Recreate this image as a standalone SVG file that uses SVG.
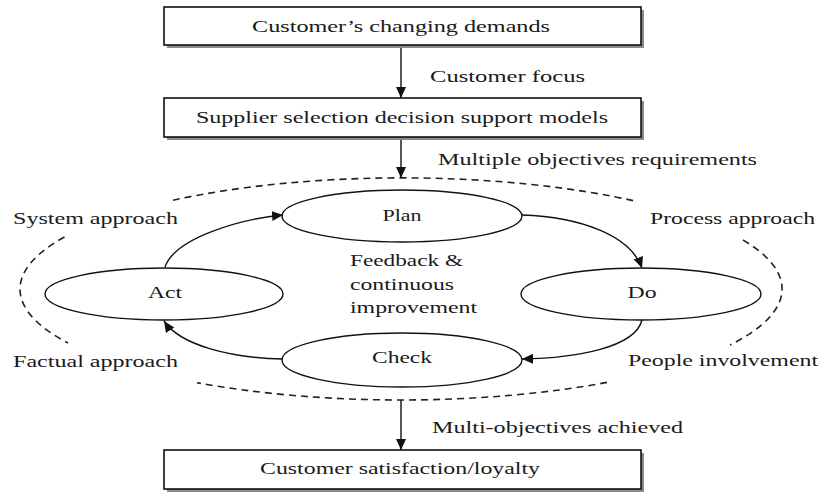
<svg xmlns="http://www.w3.org/2000/svg" width="822" height="493" viewBox="0 0 822 493">
<style>
  text { font-family: "Liberation Serif", "Times New Roman", serif; font-size: 16px; fill: #1a1a1a; }
  .box { fill: #ffffff; stroke: #111; stroke-width: 1.6; }
  .shadow { fill: #8a8a8a; }
  .ell { fill: none; stroke: #111; stroke-width: 1.4; }
  .conn { fill: none; stroke: #111; stroke-width: 1.4; }
  .dash { fill: none; stroke: #222; stroke-width: 1.6; stroke-dasharray: 7 5; }
  .mid { text-anchor: middle; }
</style>
<defs>
  <marker id="arr" markerUnits="userSpaceOnUse" markerWidth="12" markerHeight="12" viewBox="0 0 12 12" refX="11" refY="6" orient="auto">
    <path d="M0,1 L11,6 L0,11 Z" fill="#111"/>
  </marker>
</defs>

<rect width="822" height="493" fill="#ffffff"/>

<g id="boundary">
  <path class="dash" d="M173,200.2 A381,111 0 0,1 637,201.5"/>
  <path class="dash" d="M743,240 A381,111 0 0,1 730,345"/>
  <path class="dash" d="M607,382.4 A381,111 0 0,1 197,382.7"/>
  <path class="dash" d="M64.5,237 A381,111 0 0,0 68,343"/>
</g>

<g id="connectors">
  <line class="conn" x1="401" y1="45" x2="401" y2="98" marker-end="url(#arr)"/>
  <line class="conn" x1="401" y1="137" x2="401" y2="178" marker-end="url(#arr)"/>
  <line class="conn" x1="401" y1="400" x2="401" y2="450" marker-end="url(#arr)"/>
  <path class="conn" d="M522,215 C580,217 630,235 642,268" marker-end="url(#arr)"/>
  <path class="conn" d="M642,320 C635,348 575,358 522,359" marker-end="url(#arr)"/>
  <path class="conn" d="M283,359 C230,358 180,345 164,321" marker-end="url(#arr)"/>
  <path class="conn" d="M165,267 C175,238 240,219 283,215" marker-end="url(#arr)"/>
</g>

<g id="demands">
  <rect class="shadow" x="167" y="10" width="477" height="38"/>
  <rect class="box" x="164" y="7" width="477" height="38"/>
  <text x="401" y="32" class="mid" textLength="298" lengthAdjust="spacingAndGlyphs">Customer’s changing demands</text>
</g>

<g id="label-focus">
  <text x="430" y="82" textLength="155" lengthAdjust="spacingAndGlyphs">Customer focus</text>
</g>

<g id="supplier">
  <rect class="shadow" x="167" y="101" width="477" height="39"/>
  <rect class="box" x="164" y="98" width="477" height="39"/>
  <text x="402" y="123" class="mid" textLength="412" lengthAdjust="spacingAndGlyphs">Supplier selection decision support models</text>
</g>

<g id="label-multiple">
  <text x="438" y="165" textLength="319" lengthAdjust="spacingAndGlyphs">Multiple objectives requirements</text>
</g>

<g id="plan">
  <ellipse class="ell" cx="402" cy="216" rx="120" ry="26"/>
  <text x="402" y="221" class="mid" textLength="39" lengthAdjust="spacingAndGlyphs">Plan</text>
</g>

<g id="do">
  <ellipse class="ell" cx="641" cy="294" rx="120" ry="26"/>
  <text x="642" y="298" class="mid" textLength="29" lengthAdjust="spacingAndGlyphs">Do</text>
</g>

<g id="check">
  <ellipse class="ell" cx="402" cy="360" rx="120" ry="27"/>
  <text x="402" y="363" class="mid" textLength="60" lengthAdjust="spacingAndGlyphs">Check</text>
</g>

<g id="act">
  <ellipse class="ell" cx="164" cy="294" rx="119" ry="26"/>
  <text x="165" y="298" class="mid" textLength="34" lengthAdjust="spacingAndGlyphs">Act</text>
</g>

<g id="feedback">
  <text x="350" y="266" textLength="113" lengthAdjust="spacingAndGlyphs">Feedback &amp;</text>
  <text x="350" y="290" textLength="104" lengthAdjust="spacingAndGlyphs">continuous</text>
  <text x="350" y="313" textLength="127" lengthAdjust="spacingAndGlyphs">improvement</text>
</g>

<g id="principles">
  <text x="13" y="224" textLength="165" lengthAdjust="spacingAndGlyphs">System approach</text>
  <text x="13" y="367" textLength="165" lengthAdjust="spacingAndGlyphs">Factual approach</text>
  <text x="650" y="224" textLength="165" lengthAdjust="spacingAndGlyphs">Process approach</text>
  <text x="628" y="366" textLength="190" lengthAdjust="spacingAndGlyphs">People involvement</text>
</g>

<g id="label-achieved">
  <text x="432" y="433" textLength="251" lengthAdjust="spacingAndGlyphs">Multi-objectives achieved</text>
</g>

<g id="satisfaction">
  <rect class="shadow" x="167" y="453" width="477" height="39"/>
  <rect class="box" x="164" y="450" width="477" height="39"/>
  <text x="400" y="474" class="mid" textLength="280" lengthAdjust="spacingAndGlyphs">Customer satisfaction/loyalty</text>
</g>
</svg>
